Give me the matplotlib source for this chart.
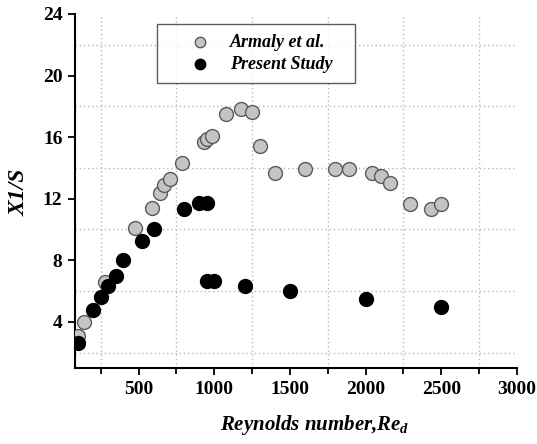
import matplotlib
matplotlib.use("Agg")
import matplotlib.pyplot as plt
from matplotlib.ticker import MultipleLocator, FixedLocator

armaly_re = [100, 140, 280, 475, 590, 640, 670, 710, 790, 930, 955, 985, 1075,
             1175, 1250, 1300, 1400, 1600, 1800, 1890, 2040, 2100, 2160, 2290,
             2430, 2500]
armaly_xs = [3.1, 4.0, 6.6, 10.1, 11.4, 12.4, 12.9, 13.3, 14.3, 15.7, 15.9, 16.1,
             17.5, 17.8, 17.65, 15.4, 13.7, 13.9, 13.9, 13.9, 13.65, 13.45, 13.05,
             11.65, 11.35, 11.65]

present_re = [100, 200, 250, 300, 350, 400, 520, 600, 800, 900, 950, 950, 1000,
              1200, 1500, 2000, 2500]
present_xs = [2.65, 4.8, 5.6, 6.3, 7.0, 8.0, 9.25, 10.0, 11.35, 11.7, 11.7, 6.65,
              6.65, 6.3, 6.0, 5.5, 4.95]

x_major = [500, 1000, 1500, 2000, 2500, 3000]
y_major = [4, 8, 12, 16, 20, 24]

plt.rcParams['font.family'] = ['Liberation Serif', 'DejaVu Serif']
plt.rcParams['mathtext.fontset'] = 'custom'
plt.rcParams['mathtext.it'] = 'Liberation Serif:italic:bold'
plt.rcParams['mathtext.rm'] = 'Liberation Serif:bold'

W, H = 537, 444
L, R, T, B = 75, 517, 14, 368
fig = plt.figure(figsize=(W/100, H/100), dpi=100)
ax = fig.add_axes([L/W, (H-B)/H, (R-L)/W, (B-T)/H])

ax.scatter(armaly_re, armaly_xs, s=100, c='#c4c4c4', edgecolors='#5a5a5a',
           linewidths=1.0, zorder=3, label='Armaly et al.')
ax.scatter(present_re, present_xs, s=100, c='black', edgecolors='black',
           linewidths=1.0, zorder=4, label='Present Study')

ax.set_xlim(80, 3000)
ax.set_ylim(1.0, 24)
ax.xaxis.set_major_locator(FixedLocator(x_major))
ax.yaxis.set_major_locator(FixedLocator(y_major))
ax.xaxis.set_minor_locator(MultipleLocator(250))
ax.yaxis.set_minor_locator(MultipleLocator(2))

ax.grid(which='minor', color='#b8b8b8', linestyle=(0, (1, 2)), linewidth=1.0)
ax.grid(which='major', visible=False)

for s in ['top', 'right']:
    ax.spines[s].set_visible(False)
for s in ['left', 'bottom']:
    ax.spines[s].set_linewidth(1.5)

ax.tick_params(which='major', direction='out', length=5, width=1.3,
               labelsize=14, pad=4)
ax.tick_params(axis='x', which='minor', direction='out', length=4, width=1.3)
ax.tick_params(axis='y', which='minor', length=0)
for lbl in ax.get_xticklabels() + ax.get_yticklabels():
    lbl.set_fontweight('bold')

ax.set_xlabel('Reynolds number,Re$_d$', fontsize=15, fontweight='bold',
              fontstyle='italic', va='center')
ax.xaxis.set_label_coords((315-L)/(R-L), -(425-B)/(B-T))
ax.set_ylabel('X1/S', fontsize=17, fontweight='bold', fontstyle='italic',
              va='center')
ax.yaxis.set_label_coords(-(L-19)/(R-L), (B-192)/(B-T))

lx0, lx1, ly0 = 157, 355, 24
leg = ax.legend(loc='upper left',
                bbox_to_anchor=((lx0-L)/(R-L), 0, (lx1-lx0)/(R-L), (B-ly0)/(B-T)),
                mode='expand',
                frameon=True, fancybox=False, edgecolor='#333333',
                prop={'family': 'Liberation Serif', 'weight': 'bold',
                      'style': 'italic', 'size': 13},
                handletextpad=-0.15, borderpad=0.55, labelspacing=0.28,
                handlelength=3.66, borderaxespad=0, markerscale=0.75)
leg.get_frame().set_linewidth(1.0)

fig.savefig('out.png', dpi=100)
